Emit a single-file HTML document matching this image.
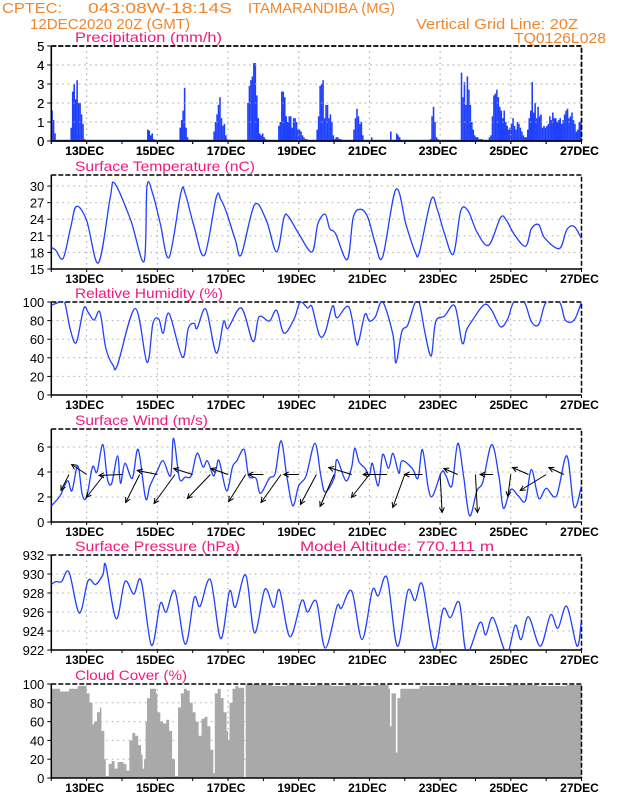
<!DOCTYPE html>
<html><head><meta charset="utf-8"><style>
html,body{margin:0;padding:0;background:#fff;}
svg{display:block;font-family:"Liberation Sans",Arial,sans-serif;}
</style></head><body>
<svg id="chart" width="618" height="800" viewBox="0 0 618 800" xmlns="http://www.w3.org/2000/svg">
<g fill="#f0862e" font-size="15">
<text x="2" y="13" textLength="60" lengthAdjust="spacingAndGlyphs">CPTEC:</text>
<text x="88" y="13" textLength="144" lengthAdjust="spacingAndGlyphs">043:08W-18:14S</text>
<text x="248" y="13" textLength="147" lengthAdjust="spacingAndGlyphs">ITAMARANDIBA (MG)</text>
<text x="30" y="29" textLength="160" lengthAdjust="spacingAndGlyphs">12DEC2020 20Z (GMT)</text>
<text x="416" y="29" textLength="162" lengthAdjust="spacingAndGlyphs">Vertical Grid Line: 20Z</text>
<text x="514" y="43" textLength="92" lengthAdjust="spacingAndGlyphs">TQ0126L028</text>
</g>
</svg>
<script>
// ---------- data ----------
const dateLabels=["13DEC","15DEC","17DEC","19DEC","21DEC","23DEC","25DEC","27DEC"];
const dateHours=[24,72,120,168,216,264,312,360];
const precipHours=[0,1,2,13,14,15,16,17,18,19,20,21,22,65,66,67,68,69,87,88,89,90,91,92,110,111,112,113,114,115,116,117,118,119,
133,134,135,136,137,138,139,140,141,142,143,144,145,154,155,156,157,158,159,160,161,162,163,164,165,166,167,168,169,170,171,172,173,
180,181,182,183,184,185,186,187,188,189,190,191,192,193,194,195,196,205,206,207,208,209,210,211,217,230,234,235,236,257,258,259,260,261,262,
278,279,280,281,282,283,284,285,286,287,288,289,290,291,292,297,298,299,300,301,302,303,304,305,306,307,308,309,310,311,312,313,314,315,316,317,318,319,320,321,322,323,
324,325,326,327,328,329,330,331,332,333,334,335,336,337,338,339,340,341,342,343,344,345,346,347,348,349,350,351,352,353,354,355,356,357,358,359];
const precipValues=[1.6,1.1,0.4,0.7,2.6,3.0,2.2,3.2,2.0,2.0,1.4,0.9,0.1,0.6,0.55,0.3,0.4,0.1,0.7,1.1,1.6,2.8,0.7,0.2,0.5,1.0,1.4,1.9,2.3,1.2,0.8,0.9,0.3,0.1,
2.0,2.9,3.2,3.4,4.1,4.1,2.4,1.2,0.4,0.3,0.4,0.2,0.1,0.8,1.0,2.6,2.6,2.3,1.3,1.0,1.3,1.3,0.7,1.2,1.2,1.0,0.6,0.6,0.5,0.3,0.2,0.1,0.1,
0.6,1.3,2.9,3.0,3.2,1.2,1.9,1.9,1.2,1.4,1.0,0.3,0.1,0.2,0.2,0.1,0.1,0.6,1.2,1.7,1.3,0.9,1.0,0.3,0.2,0.5,0.4,0.3,0.2,0.1,1.3,1.8,1.0,0.2,0.1,
3.6,2.3,3.1,1.9,3.4,2.7,1.9,1.0,0.6,0.3,0.2,0.2,0.1,0.1,0.1,0.2,0.3,1.3,2.4,2.5,2.7,2.3,1.8,1.6,1.2,1.6,1.0,0.8,0.6,0.7,0.9,1.2,0.8,0.6,1.0,0.9,0.7,0.5,0.3,0.2,0.2,0.6,
1.2,1.6,3.1,1.5,2.0,1.2,1.8,1.3,1.4,0.7,0.8,0.7,0.8,0.9,1.3,1.1,1.5,1.2,1.2,1.0,1.1,1.2,0.9,1.1,1.4,1.6,1.7,1.2,1.3,1.5,1.1,0.9,0.5,0.6,1.0,1.0];
const tempHours=[0,3,8,13,17,24,32,40,43,54,63,65,69,74,80,88,91,97,104,112,115,119,125,129,138,146,153,158,161,168,177,181,186,189,193,201,205,210,215,220,225,234,241,247,250,258,262,267,273,278,283,289,297,305,309,314,322,326,331,335,345,350,355,360];
const tempValues=[18.9,18.4,16.9,22.3,26.3,23.8,16.1,27.9,30.5,23.8,16.4,30.0,28.5,23.2,17.1,28.8,28.6,22.6,17.5,28.0,27.6,25.2,20.2,17.6,26.6,23.8,18.1,24.3,24.5,21.4,18.1,23.2,24.9,22.3,21.4,16.7,24.3,25.8,24.3,19.6,17.2,29.4,22.9,18.1,18.1,27.6,25.8,21.4,17.7,25.5,25.5,21.7,19.3,24.3,23.8,21.4,19.1,22.3,23.0,20.6,18.7,22.1,22.7,20.5];
const rhHours=[0,6,9,13,17,22,25,29,33,37,42,45,57,65,69,73,76,80,89,93,97,99,105,112,117,120,129,137,141,148,153,158,165,169,174,177,182,186,191,194,202,207,209,213,216,220,225,232,234,238,242,247,250,254,258,261,267,274,279,282,286,294,299,305,310,314,321,326,331,336,345,349,355,360];
const rhValues=[96.5,100,100,70,56.5,93,89,80.5,89,50.4,31.7,32.7,93,35.2,77,81.6,66.4,87.6,40.5,71.7,77,71.7,92.2,45.1,78.8,71.7,93.6,57.5,84,79.5,91,66.4,82.3,100,93.6,94.7,64.6,67.4,95.8,83,94.7,56.5,59.3,86.9,79.5,84,100,64.6,34.5,68.1,75.2,99.3,98.2,64.6,42.3,78.8,84.8,95.8,55.8,70,80.5,97.2,91.2,73.4,82.3,100,100,78.8,76,100,100,80.5,80.5,100];
const windHours=[0,6,11,14,18,21,24,28,31,35,38,41,45,47,50,55,59,64,67,72,76,81,83,87,91,95,99,103,106,110,112,114,119,123,126,131,134,139,142,148,152,156,160,164,168,173,179,183,186,192,194,200,204,206,209,213,216,218,222,225,229,232,236,238,245,249,252,256,259,265,268,272,276,280,284,289,293,299,304,307,312,317,322,326,331,336,343,350,355,360];
const windSpeed=[1.3,2.1,3.3,2.5,4.5,2.2,2.0,4.4,4.0,6.2,3.5,3.1,5.3,3.1,4.7,3.5,5.8,1.9,2.9,4.1,4.9,3.7,6.7,3.5,3.6,3.7,5.5,4.4,4.9,3.7,4.3,4.9,2.5,4.4,4.9,5.8,3.7,3.5,2.3,3.5,3.9,6.5,3.6,1.3,2.9,3.7,6.3,3.7,2.4,3.5,5.0,3.3,4.4,5.9,4.8,4.3,3.7,4.7,2.9,5.4,4.3,5.5,3.9,4.9,4.3,3.5,5.8,2.7,2.1,4.0,3.7,2.9,6.3,3.6,0.5,2.5,3.2,6.2,3.6,1.1,2.6,2.1,1.7,4.2,1.9,2.7,2.1,5.3,1.2,2.9];
const arrowHours=[12,24,36,48,60,72,84,96,108,120,132,144,156,168,180,192,204,216,228,240,252,264,276,288,300,312,324,336,348];
const arrowU=[-2,-3.75,-4.5,-5.75,-3.5,-5,-5.25,-4.75,-5.75,-4.25,-4.25,-3.75,-5,-3.75,-4,-3.5,-5.75,-4.5,-6,-3,-4.5,0.5,-3.5,0.5,-3.25,-0.75,-4,-6.5,-3.75];
const arrowV=[-4,2.5,-5.75,-0.25,-7,1,-7.25,1.5,-6,1.5,-6.75,0,-7,0,-7.5,-8,1.75,-5.75,0,-8.25,0,-9.5,1.5,-9.5,0,-5.5,1.75,-4,1.75];
const presHours=[0,3,7,12,19,25,30,35,37,44,50,56,61,68,74,78,84,91,97,101,108,115,121,125,132,138,145,151,155,162,170,174,180,186,194,197,204,211,218,222,228,235,242,247,252,260,266,271,277,282,291,295,300,309,315,319,324,332,339,344,350,357,360];
const presValues=[928.9,929.2,929.2,930.2,925.9,929.3,928.9,929.9,930.9,925.3,929.2,927.9,929.3,922.5,926.9,926.0,928.2,922.6,927.5,926.6,929.4,923.2,928.2,926.5,929.9,923.8,928.4,926.5,928.3,923.4,927.2,926.0,927.1,922.2,926.6,926.4,928.2,923.1,928.3,927.7,929.6,922.4,928.2,927.2,928.9,922.1,926.3,925.4,927.0,921.7,924.9,923.6,925.4,921.7,924.6,923.1,925.5,922.4,925.7,924.3,926.6,922.4,925.3];
const cloudHours=[0,6,12,18,24,26,28,29,31,33,34,36,37,38,39,41,43,45,47,49,51,53,55,57,59,61,62,63,64,65,67,69,71,72,74,76,78,80,82,84,85,86,88,90,92,94,96,98,100,102,104,106,108,110,111,113,115,117,119,120,121,123,125,127,129,131,132,140,150,160,170,180,190,200,210,220,229,230,231,233,234,235,237,250,270,290,310,330,350];
const cloudValues=[95,92,95,98,90,80,57,60,70,75,50,20,2,2,15,18,10,17,17,15,8,40,48,45,35,25,10,20,60,85,95,95,90,70,60,58,62,50,20,2,2,75,90,95,93,80,70,60,45,63,65,55,30,5,90,95,85,70,50,40,80,95,98,96,96,0,100,99,98,99,98,99,98,99,98,99,95,55,90,90,27,85,95,98,99,98,99,98,99];

// ---------- layout helpers ----------
const NS="http://www.w3.org/2000/svg";
const svg=document.getElementById('chart');
const X0=51.3,X1=581.5,HMAX=360;
function xs(h){return X0+(h/HMAX)*(X1-X0);}
function mk(tag,attrs,parent){const e=document.createElementNS(NS,tag);for(const k in attrs)e.setAttribute(k,attrs[k]);(parent||svg).appendChild(e);return e;}
function panel(name,title,top,bot,ymin,ymax,ticks,titleLen){
  const g=mk('g',{});
  
  
  const ys=v=>bot-(v-ymin)/(ymax-ymin)*(bot-top);
  const t=mk('text',{x:75,y:top-4,fill:'#f0197d','font-size':14,textLength:titleLen,lengthAdjust:'spacingAndGlyphs'},g);
  t.textContent=title;
  
  
  return {g,ys,top,bot,ticks,name};
}
function frame(p){
  const g=p.g;
  dateHours.forEach((h,i)=>{
    if(h<HMAX){const l=mk('line',{x1:xs(h),x2:xs(h),y1:p.top,y2:p.bot,stroke:'#aaa','stroke-dasharray':'1.5,4','stroke-width':1},g);
    
    }
    const t=mk('text',{x:xs(h)-2,y:p.bot+14,'font-size':12,'font-weight':'bold','text-anchor':'middle',fill:'#000'},g);
    t.textContent=dateLabels[i];
    
    
  });
  p.ticks.forEach(v=>{
    const y=p.ys(v);
    if(y>p.top+1&&y<p.bot-1){const l=mk('line',{x1:X0,x2:X1,y1:y,y2:y,stroke:'#aaa','stroke-dasharray':'1.5,4'},g);
    
    }
    mk('line',{x1:X0-4,x2:X0,y1:y,y2:y,stroke:'#000'},g);
    const t=mk('text',{x:X0-7,y:y+5,'font-size':13,'text-anchor':'end',fill:'#000'},g);
    t.textContent=String(v);
    
    
  });
  const b=mk('path',{d:`M${X0},${p.top}H${X1}V${p.bot}`,fill:'none',stroke:'#000','stroke-width':1.5,'stroke-dasharray':'5,2'},g);
  
  
  const a=mk('path',{d:`M${X0},${p.top}V${p.bot}H${X1}`,fill:'none',stroke:'#000','stroke-width':1.5},g);
  
  
  for(let h=0;h<=HMAX;h+=24){mk('line',{x1:xs(h),x2:xs(h),y1:p.bot,y2:p.bot+3,stroke:'#000'},g);}
}
function smoothPath(hs,vs,ys){
  const P=hs.map((h,i)=>[xs(h),ys(vs[i])]);
  let d=`M${P[0][0].toFixed(1)},${P[0][1].toFixed(1)}`;
  for(let i=0;i<P.length-1;i++){
    const p0=P[Math.max(0,i-1)],p1=P[i],p2=P[i+1],p3=P[Math.min(P.length-1,i+2)];
    const c1=[p1[0]+(p2[0]-p0[0])/6,p1[1]+(p2[1]-p0[1])/6];
    const c2=[p2[0]-(p3[0]-p1[0])/6,p2[1]-(p3[1]-p1[1])/6];
    d+=`C${c1[0].toFixed(1)},${c1[1].toFixed(1)} ${c2[0].toFixed(1)},${c2[1].toFixed(1)} ${p2[0].toFixed(1)},${p2[1].toFixed(1)}`;
  }
  return d;
}
function line(p,hs,vs,name){
  const id='clip-'+name;
  const cp=mk('clipPath',{id},p.g);
  mk('rect',{x:X0,y:p.top,width:X1-X0,height:p.bot-p.top},cp);
  const l=mk('path',{d:smoothPath(hs,vs,p.ys),fill:'none',stroke:'#2040ff','stroke-width':1.3,'clip-path':`url(#${id})`},p.g);
  
  
}

// ---------- precipitation ----------
const pp=panel('precipitation','Precipitation (mm/h)',46,141,0,5,[0,1,2,3,4,5],147);
frame(pp);
mk('line',{x1:X0,x2:X1,y1:pp.bot-0.5,y2:pp.bot-0.5,stroke:'#2040ff','stroke-width':1.5},pp.g);
precipHours.forEach((h,i)=>{
  const y=pp.ys(precipValues[i]);
  const r=mk('rect',{x:xs(h),y:y,width:(X1-X0)/HMAX+0.1,height:pp.bot-y,fill:'#2040ff'},pp.g);
  
  
});
frame(pp);

// ---------- temperature ----------
const tp=panel('temperature','Surface Temperature (nC)',175,269,15,32,[15,18,21,24,27,30],180);
frame(tp);line(tp,tempHours,tempValues,'temperature');

// ---------- humidity ----------
const hp=panel('humidity','Relative Humidity (%)',302,395,0,100,[0,20,40,60,80,100],148);
frame(hp);line(hp,rhHours,rhValues,'humidity');

// ---------- wind ----------
const wp=panel('wind','Surface Wind (m/s)',429,522,0,7.44,[0,2,4,6],133);
frame(wp);line(wp,windHours,windSpeed,'wind-speed');
const ARROW_SCALE=4;
arrowHours.forEach((h,i)=>{
  const x0=xs(h),y0=wp.ys(3.8);
  const dx=arrowU[i]*ARROW_SCALE,dy=-arrowV[i]*ARROW_SCALE;
  const x1=x0+dx,y1=y0+dy;
  const len=Math.hypot(dx,dy)||1,ux=dx/len,uy=dy/len;
  const hl=5,hw=2.5;
  const ax=x1-ux*hl,ay=y1-uy*hl;
  const g=mk('g',{},wp.g);
  
  
  mk('line',{x1:x0,y1:y0,x2:x1,y2:y1,stroke:'#000','stroke-width':1},g);
  mk('path',{d:`M${ax-uy*hw},${ay+ux*hw}L${x1},${y1}L${ax+uy*hw},${ay-ux*hw}`,fill:'none',stroke:'#000','stroke-width':1},g);
});

// ---------- pressure ----------
const prp=panel('pressure','Surface Pressure (hPa)',555,650,922,932,[922,924,926,928,930,932],165);
const alt=mk('text',{x:300,y:551,fill:'#f0197d','font-size':14,textLength:194,lengthAdjust:'spacingAndGlyphs'},prp.g);
alt.textContent='Model Altitude: 770.111 m';


frame(prp);line(prp,presHours,presValues,'pressure');

// ---------- cloud ----------
const cp=panel('cloud','Cloud Cover (%)',684,778,0,100,[0,20,40,60,80,100],112);
(function(){
  let d=`M${xs(0)},${cp.bot}`;
  cloudHours.forEach((h,i)=>{
    const nh=i<cloudHours.length-1?cloudHours[i+1]:HMAX;
    const y=cp.ys(cloudValues[i]);
    d+=`L${xs(h).toFixed(1)},${y.toFixed(1)}L${xs(nh).toFixed(1)},${y.toFixed(1)}`;
  });
  d+=`L${xs(HMAX)},${cp.bot}Z`;
  const a=mk('path',{d,fill:'#a9a9a9',stroke:'none'},cp.g);
  
  
})();
frame(cp);
</script>
</body></html>
